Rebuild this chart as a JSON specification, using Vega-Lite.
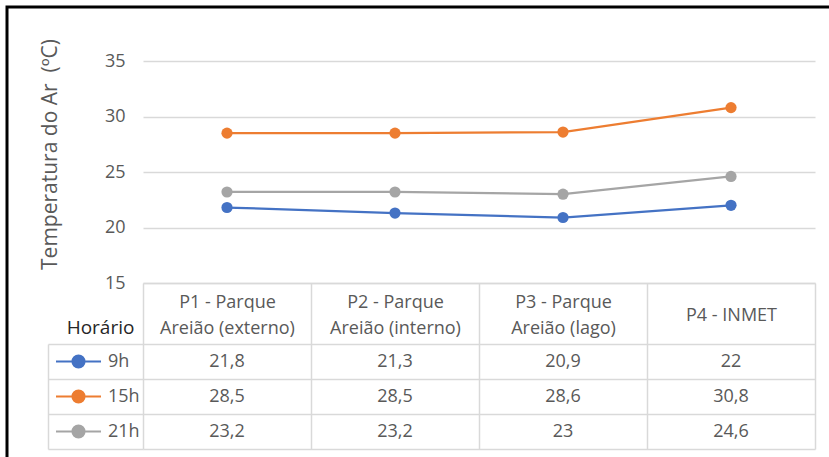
{
  "$schema": "https://vega.github.io/schema/vega-lite/v6.json",
  "width": 822,
  "height": 450,
  "autosize": {"type": "none"},
  "padding": {"left": 7, "top": 7, "right": 0, "bottom": 0},
  "background": "white",
  "config": {
    "view": {"stroke": "#000000", "strokeWidth": 3, "strokeDash": [822, 1272, 450]},
    "font": "Open Sans",
    "locale": {"number": {"decimal": ",", "thousands": ".", "grouping": [3], "currency": ["", ""]}}
  },
  "data": {
    "values": [
      {"local": "P1 - Parque|Areião (externo)", "hora": "9h", "temp": 21.8},
      {"local": "P1 - Parque|Areião (externo)", "hora": "15h", "temp": 28.5},
      {"local": "P1 - Parque|Areião (externo)", "hora": "21h", "temp": 23.2},
      {"local": "P2 - Parque|Areião (interno)", "hora": "9h", "temp": 21.3},
      {"local": "P2 - Parque|Areião (interno)", "hora": "15h", "temp": 28.5},
      {"local": "P2 - Parque|Areião (interno)", "hora": "21h", "temp": 23.2},
      {"local": "P3 - Parque|Areião (lago)", "hora": "9h", "temp": 20.9},
      {"local": "P3 - Parque|Areião (lago)", "hora": "15h", "temp": 28.6},
      {"local": "P3 - Parque|Areião (lago)", "hora": "21h", "temp": 23},
      {"local": "P4 - INMET", "hora": "9h", "temp": 22},
      {"local": "P4 - INMET", "hora": "15h", "temp": 30.8},
      {"local": "P4 - INMET", "hora": "21h", "temp": 24.6}
    ]
  },
  "encoding": {
    "x": {
      "field": "local",
      "type": "nominal",
      "scale": {
        "domain": ["P1 - Parque|Areião (externo)", "P2 - Parque|Areião (interno)", "P3 - Parque|Areião (lago)", "P4 - INMET"],
        "range": [136, 808],
        "paddingInner": 0,
        "paddingOuter": 0
      },
      "axis": {
        "orient": "bottom",
        "offset": -174,
        "title": null,
        "grid": false,
        "domain": true,
        "domainColor": "#D9D9D9",
        "domainWidth": 1.5,
        "ticks": true,
        "tickBand": "extent",
        "tickSize": 166,
        "tickColor": "#D9D9D9",
        "tickWidth": 1.5,
        "labelExpr": "split(datum.label, '|')",
        "labelAngle": 0,
        "labelBaseline": "middle",
        "labelPadding": {"condition": {"test": "datum.value == 'P4 - INMET'", "value": -134}, "value": -147},
        "labelLineHeight": 26,
        "labelFontSize": 18,
        "labelColor": "#595959",
        "labelFont": "Open Sans",
        "labelOverlap": false
      }
    }
  },
  "layer": [
    {
      "mark": {"type": "line", "strokeWidth": 2.25, "point": {"filled": true, "size": 125, "opacity": 1}},
      "encoding": {
        "y": {
          "field": "temp",
          "type": "quantitative",
          "scale": {"domain": [15, 35], "range": [276, 54], "zero": false, "nice": false},
          "axis": {
            "orient": "left",
            "offset": -136,
            "values": [15, 20, 25, 30, 35],
            "grid": true,
            "gridColor": "#D9D9D9",
            "gridWidth": 1.5,
            "domain": false,
            "ticks": false,
            "tickSize": 0,
            "labelPadding": 18,
            "labelFontSize": 18,
            "labelColor": "#595959",
            "labelFont": "Open Sans",
            "title": "Temperatura do Ar\u00a0 (ºC)",
            "titleFont": "Open Sans",
            "titleFontSize": 21,
            "titleFontWeight": "normal",
            "titleColor": "#595959",
            "titleAngle": -90,
            "titleX": -83,
            "titleY": 147,
            "titleAlign": "center",
            "titleBaseline": "bottom"
          }
        },
        "color": {
          "field": "hora",
          "type": "nominal",
          "scale": {"domain": ["9h", "15h", "21h"], "range": ["#4472C4", "#ED7D31", "#A5A5A5"]},
          "legend": {
            "orient": "none",
            "legendX": 48,
            "legendY": 337,
            "title": null,
            "padding": 0,
            "rowPadding": 0,
            "clipHeight": 35,
            "symbolType": "M-1,0L1,0M0.27,0A0.27,0.27,0,1,1,-0.27,0A0.27,0.27,0,1,1,0.27,0Z",
            "symbolSize": 2025,
            "symbolStrokeWidth": 2,
            "symbolOffset": 0,
            "labelOffset": 6,
            "labelFontSize": 18,
            "labelColor": "#595959",
            "labelFont": "Open Sans",
            "encode": {
              "symbols": {
                "update": {
                  "fill": {"scale": "color", "field": "value"},
                  "stroke": {"scale": "color", "field": "value"},
                  "opacity": {"value": 1}
                }
              }
            }
          }
        }
      }
    },
    {
      "mark": {"type": "text", "fontSize": 18, "color": "#595959", "font": "Open Sans"},
      "encoding": {
        "y": {
          "field": "hora",
          "type": "nominal",
          "scale": {"domain": ["9h", "15h", "21h"], "range": [337, 442], "paddingInner": 0, "paddingOuter": 0},
          "axis": {
            "orient": "left",
            "offset": -41,
            "tickBand": "extent",
            "ticks": true,
            "tickSize": -95,
            "tickColor": "#D9D9D9",
            "tickWidth": 1.5,
            "domain": true,
            "domainColor": "#D9D9D9",
            "domainWidth": 1.5,
            "labels": false,
            "grid": true,
            "gridColor": "#D9D9D9",
            "gridWidth": 1.5,
            "title": "Horário",
            "titleFont": "Open Sans",
            "titleFontSize": 19,
            "titleFontWeight": "normal",
            "titleColor": "#262626",
            "titleAngle": 0,
            "titleX": 52,
            "titleY": 320,
            "titleAlign": "center",
            "titleBaseline": "middle"
          }
        },
        "text": {"field": "temp", "type": "quantitative", "format": "~g"}
      }
    }
  ],
  "resolve": {"scale": {"y": "independent"}, "axis": {"y": "independent"}}
}
